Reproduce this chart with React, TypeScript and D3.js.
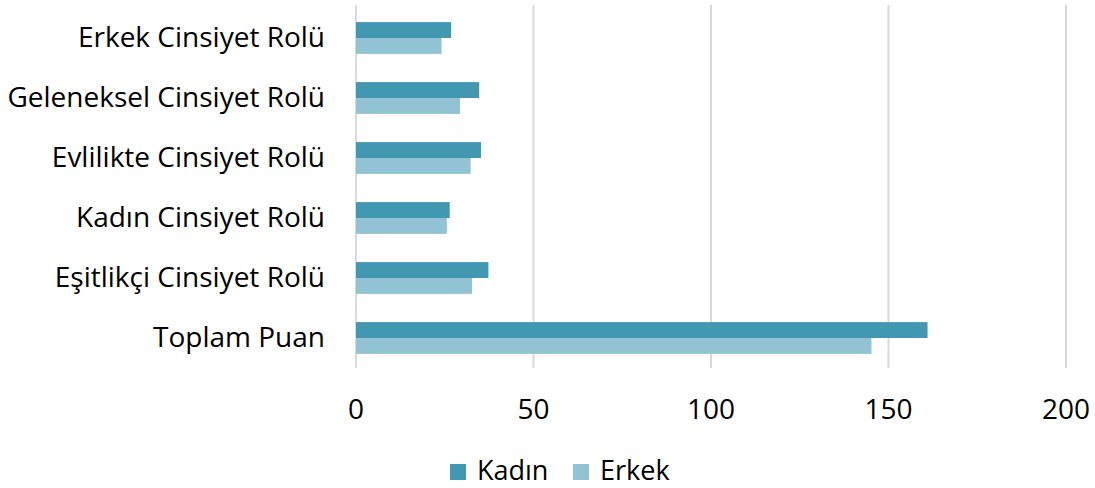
import React from "react";
import * as d3 from "d3";

const categories = [
  "Erkek Cinsiyet Rolü",
  "Geleneksel Cinsiyet Rolü",
  "Evlilikte Cinsiyet Rolü",
  "Kadın Cinsiyet Rolü",
  "Eşitlikçi Cinsiyet Rolü",
  "Toplam Puan",
];
const kadin = [26.8, 34.7, 35.2, 26.4, 37.3, 161];
const erkek = [24.1, 29.3, 32.3, 25.6, 32.7, 145.2];
const seriesNames = ["Kadın", "Erkek"];
const colors = ["#4298B0", "#92C3D5"];
const ticks = [0, 50, 100, 150, 200];

const W = 1095;
const H = 488;
const font = "'Open Sans', sans-serif";

const App = () => {
  const x = d3.scaleLinear().domain([0, 200]).range([356, 1066]);
  const y = d3.scaleBand().domain(categories).range([8, 368]).paddingInner(0.47).paddingOuter(0.235);
  const sub = d3.scaleBand().domain(seriesNames).range([0, y.bandwidth()]);
  const series = [kadin, erkek];

  return (
    <svg width={W} height={H} style={{ position: "absolute", left: 0, top: 0, background: "#fff" }}>
      {/* grid */}
      {ticks.map((t) => (
        <line key={t} x1={x(t)} x2={x(t)} y1={5} y2={368} stroke="#d9d9d9" strokeWidth={2} />
      ))}
      {/* bars */}
      {categories.map((c, i) =>
        series.map((s, j) => (
          <rect
            key={c + j}
            x={x(0)}
            y={(y(c) ?? 0) + (sub(seriesNames[j]) ?? 0)}
            width={x(s[i]) - x(0)}
            height={sub.bandwidth()}
            fill={colors[j]}
          />
        ))
      )}
      {/* category labels */}
      {categories.map((c) => (
        <text
          key={c}
          x={325}
          y={(y(c) ?? 0) + y.bandwidth() / 2 + 9}
          textAnchor="end"
          fontFamily={font}
          fontSize={28}
          fill="#000"
        >
          {c}
        </text>
      ))}
      {/* tick labels */}
      {ticks.map((t) => (
        <text key={t} x={x(t)} y={419} textAnchor="middle" fontFamily={font} fontSize={28} fill="#000">
          {t}
        </text>
      ))}
      {/* legend */}
      <g fontFamily={font} fontSize={27}>
        <rect x={450} y={464} width={16} height={16} fill={colors[0]} />
        <text x={477} y={480}>{seriesNames[0]}</text>
        <rect x={573} y={464} width={16} height={16} fill={colors[1]} />
        <text x={600} y={480}>{seriesNames[1]}</text>
      </g>
    </svg>
  );
};

export default App;
